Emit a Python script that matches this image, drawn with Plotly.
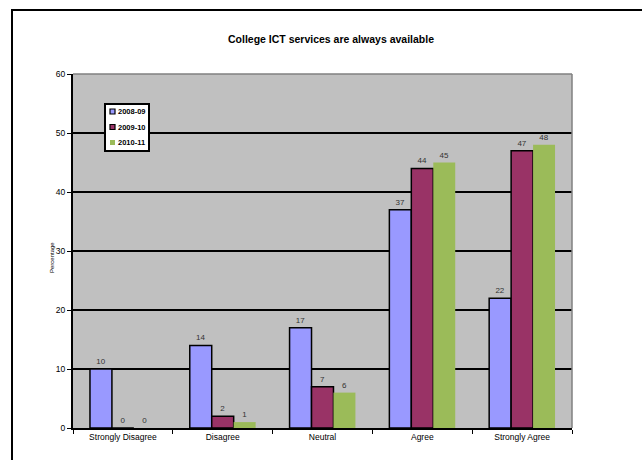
import plotly.graph_objects as go

# Survey responses: "College ICT services are always available" (percentage)
categories = ["Strongly Disagree", "Disagree", "Neutral", "Agree", "Strongly Agree"]
years = ["2008-09", "2009-10", "2010-11"]
pct_2008_09 = [10, 14, 17, 37, 22]
pct_2009_10 = [0, 2, 7, 44, 47]
pct_2010_11 = [0, 1, 6, 45, 48]
y_ticks = [0, 10, 20, 30, 40, 50, 60]

series = [pct_2008_09, pct_2009_10, pct_2010_11]
colors = ["#9999FF", "#993366", "#9BBB59"]
outline = [1.5, 1.5, 0]

FONT = "Liberation Sans, Arial, sans-serif"

fig = go.Figure()
for name, vals, col, lw in zip(years, series, colors, outline):
    fig.add_trace(go.Bar(
        name=name, x=categories, y=vals,
        marker=dict(color=col, line=dict(color="black", width=lw)),
        texttemplate="%{y:.0f}", textposition="outside",
        textfont=dict(size=8, color="#333333", family=FONT),
        cliponaxis=False, showlegend=False,
    ))

# plot area in pixels: x 73..572, y 74..428
L, R, T, B = 73, 70, 74, 32
W, H = 642, 460
pw, ph = W - L - R, H - T - B

def px(x):
    return (x - L) / pw

def py(y):
    return (H - B - y) / ph

shapes = [
    # outer chart frame
    dict(type="rect", xref="paper", yref="paper",
         x0=px(12), x1=px(700), y0=py(500), y1=py(10),
         line=dict(color="black", width=2), layer="below"),
    # plot area border (top and right)
    dict(type="line", xref="paper", yref="paper", x0=0, x1=1, y0=1, y1=1,
         line=dict(color="#808080", width=1.5)),
    dict(type="line", xref="paper", yref="paper", x0=1, x1=1, y0=0, y1=1,
         line=dict(color="#808080", width=1.5)),
    # legend box
    dict(type="rect", xref="paper", yref="paper",
         x0=px(105), x1=px(149), y0=py(151), y1=py(104),
         fillcolor="white", line=dict(color="black", width=2)),
]
annotations = [
    dict(text="Percentage", xref="paper", yref="paper",
         x=px(52), y=py(258), textangle=-90, showarrow=False,
         font=dict(size=6, family=FONT, color="black"),
         xanchor="center", yanchor="middle"),
]

# compact legend: small swatch + bold label per series
for i, (name, col, lw) in enumerate(zip(years, colors, outline)):
    yc = 111.5 + i * 15.5
    shapes.append(dict(type="rect", xref="paper", yref="paper",
                       x0=px(110), x1=px(115), y0=py(yc + 2.5), y1=py(yc - 2.5),
                       fillcolor=col,
                       line=dict(color="black", width=1.2 if lw else 0)))
    annotations.append(dict(text="<b>%s</b>" % name, xref="paper", yref="paper",
                            x=px(116), y=py(yc), showarrow=False,
                            xanchor="left", yanchor="middle",
                            font=dict(size=7.5, family=FONT, color="black")))

fig.update_layout(
    width=W, height=H,
    margin=dict(l=L, r=R, t=T, b=B, pad=0),
    paper_bgcolor="white", plot_bgcolor="#C0C0C0",
    barmode="group", bargap=0.34, bargroupgap=0,
    font=dict(family=FONT, size=8, color="black"),
    title=dict(text="<b>College ICT services are always available</b>",
               font=dict(size=10.5, family=FONT, color="black"),
               x=331 / W, xanchor="center", xref="container",
               y=1 - 39 / H, yref="container", yanchor="middle"),
    showlegend=False,
    xaxis=dict(showgrid=False, showline=True, linecolor="black", linewidth=2,
               ticks="outside", ticklen=4, tickcolor="black", tickwidth=1,
               tickson="boundaries", mirror=False,
               tickfont=dict(size=8.5, family=FONT, color="black")),
    yaxis=dict(range=[0, 60], tickvals=y_ticks, showgrid=True,
               gridcolor="black", gridwidth=1.5, zeroline=False,
               showline=True, linecolor="black", linewidth=2,
               ticks="outside", ticklen=4, tickcolor="black",
               tickfont=dict(size=8.5, family=FONT, color="black")),
    shapes=shapes,
    annotations=annotations,
)

fig.write_html("out.html")
